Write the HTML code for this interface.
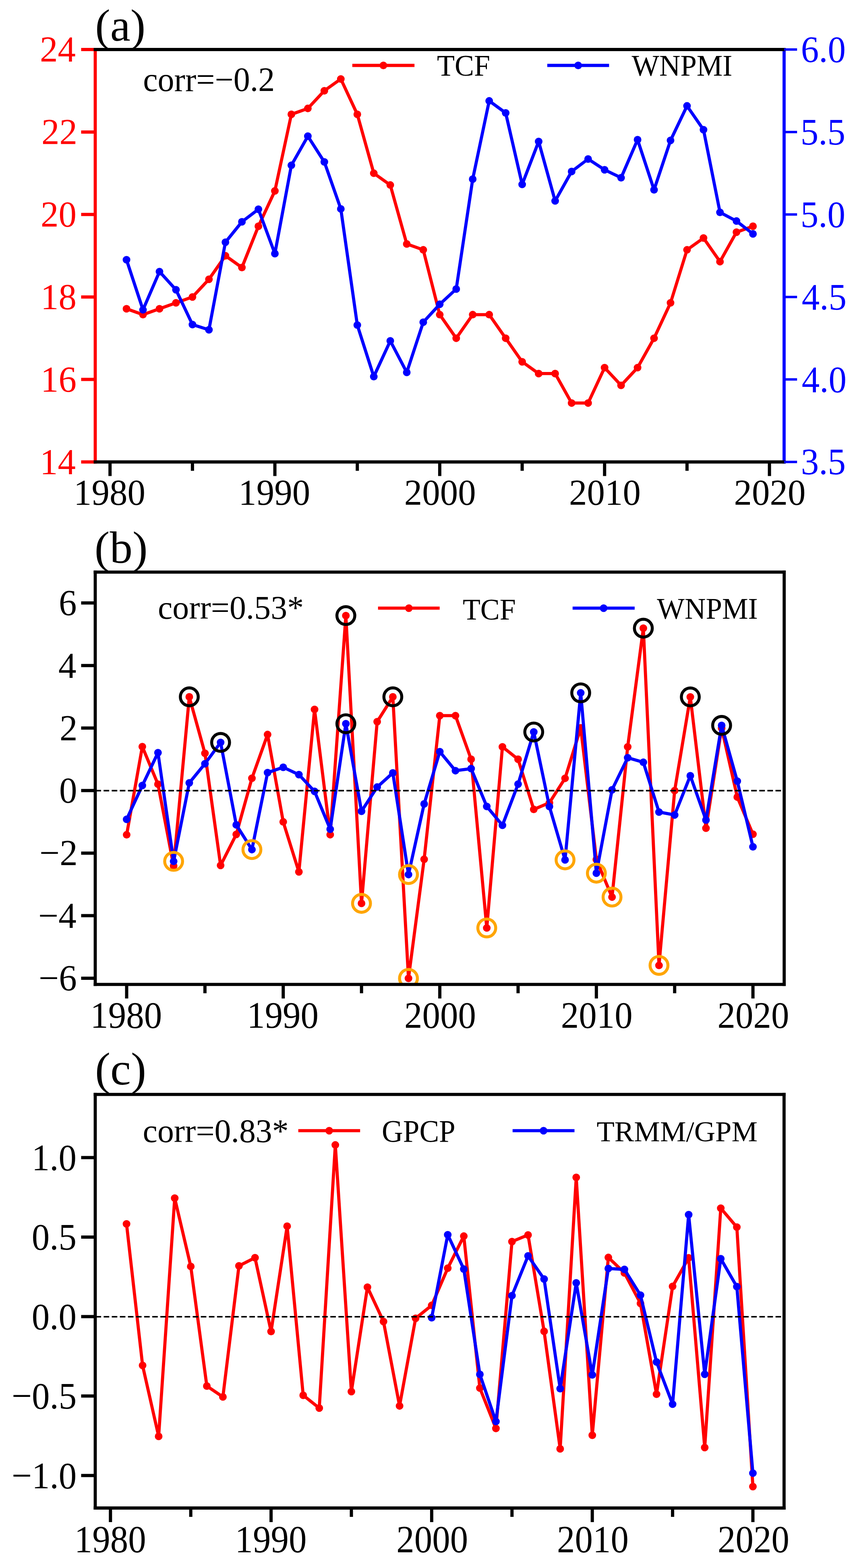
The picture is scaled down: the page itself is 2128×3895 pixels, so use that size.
<!DOCTYPE html>
<html><head><meta charset="utf-8"><title>TCF and WNPMI time series</title>
<style>html,body{margin:0;padding:0;background:#fff;}svg{display:block;}text{font-family:"Liberation Serif", "Times New Roman", serif;}</style></head><body>
<svg width="2128" height="3895" viewBox="0 0 2128 3895">
<rect x="0" y="0" width="2128" height="3895" fill="#fff"/>
<defs>
<clipPath id="ca"><rect x="236.5" y="123.0" width="1710.5" height="1024.5"/></clipPath>
<clipPath id="cb"><rect x="236.5" y="1421.2" width="1710.7" height="1024.1000000000001"/></clipPath>
<clipPath id="cc"><rect x="236.5" y="2718.7" width="1710.4" height="1027.3000000000002"/></clipPath>
</defs>
<polyline points="314.13,766.97 355.07,781.61 396,766.97 436.94,752.34 477.88,737.7 518.81,693.79 559.75,635.25 600.68,664.52 641.62,562.07 682.55,474.26 723.49,283.99 764.42,269.36 805.36,225.45 846.29,196.18 887.23,283.99 928.16,430.35 969.1,459.62 1010.03,605.98 1050.97,620.61 1091.9,781.61 1132.84,840.15 1173.77,781.61 1214.71,781.61 1255.64,840.15 1296.58,898.69 1337.51,927.96 1378.45,927.96 1419.38,1001.14 1460.32,1001.14 1501.25,913.33 1542.19,957.24 1583.12,913.33 1624.06,840.15 1664.99,752.34 1705.93,620.61 1746.86,591.34 1787.8,649.89 1828.73,576.71 1869.67,562.07" fill="none" stroke="#ff0000" stroke-width="7.8" stroke-linejoin="round" stroke-linecap="round" clip-path="url(#ca)"/>
<circle cx="314.13" cy="766.97" r="9.5" fill="#ff0000" clip-path="url(#ca)"/>
<circle cx="355.07" cy="781.61" r="9.5" fill="#ff0000" clip-path="url(#ca)"/>
<circle cx="396" cy="766.97" r="9.5" fill="#ff0000" clip-path="url(#ca)"/>
<circle cx="436.94" cy="752.34" r="9.5" fill="#ff0000" clip-path="url(#ca)"/>
<circle cx="477.88" cy="737.7" r="9.5" fill="#ff0000" clip-path="url(#ca)"/>
<circle cx="518.81" cy="693.79" r="9.5" fill="#ff0000" clip-path="url(#ca)"/>
<circle cx="559.75" cy="635.25" r="9.5" fill="#ff0000" clip-path="url(#ca)"/>
<circle cx="600.68" cy="664.52" r="9.5" fill="#ff0000" clip-path="url(#ca)"/>
<circle cx="641.62" cy="562.07" r="9.5" fill="#ff0000" clip-path="url(#ca)"/>
<circle cx="682.55" cy="474.26" r="9.5" fill="#ff0000" clip-path="url(#ca)"/>
<circle cx="723.49" cy="283.99" r="9.5" fill="#ff0000" clip-path="url(#ca)"/>
<circle cx="764.42" cy="269.36" r="9.5" fill="#ff0000" clip-path="url(#ca)"/>
<circle cx="805.36" cy="225.45" r="9.5" fill="#ff0000" clip-path="url(#ca)"/>
<circle cx="846.29" cy="196.18" r="9.5" fill="#ff0000" clip-path="url(#ca)"/>
<circle cx="887.23" cy="283.99" r="9.5" fill="#ff0000" clip-path="url(#ca)"/>
<circle cx="928.16" cy="430.35" r="9.5" fill="#ff0000" clip-path="url(#ca)"/>
<circle cx="969.1" cy="459.62" r="9.5" fill="#ff0000" clip-path="url(#ca)"/>
<circle cx="1010.03" cy="605.98" r="9.5" fill="#ff0000" clip-path="url(#ca)"/>
<circle cx="1050.97" cy="620.61" r="9.5" fill="#ff0000" clip-path="url(#ca)"/>
<circle cx="1091.9" cy="781.61" r="9.5" fill="#ff0000" clip-path="url(#ca)"/>
<circle cx="1132.84" cy="840.15" r="9.5" fill="#ff0000" clip-path="url(#ca)"/>
<circle cx="1173.77" cy="781.61" r="9.5" fill="#ff0000" clip-path="url(#ca)"/>
<circle cx="1214.71" cy="781.61" r="9.5" fill="#ff0000" clip-path="url(#ca)"/>
<circle cx="1255.64" cy="840.15" r="9.5" fill="#ff0000" clip-path="url(#ca)"/>
<circle cx="1296.58" cy="898.69" r="9.5" fill="#ff0000" clip-path="url(#ca)"/>
<circle cx="1337.51" cy="927.96" r="9.5" fill="#ff0000" clip-path="url(#ca)"/>
<circle cx="1378.45" cy="927.96" r="9.5" fill="#ff0000" clip-path="url(#ca)"/>
<circle cx="1419.38" cy="1001.14" r="9.5" fill="#ff0000" clip-path="url(#ca)"/>
<circle cx="1460.32" cy="1001.14" r="9.5" fill="#ff0000" clip-path="url(#ca)"/>
<circle cx="1501.25" cy="913.33" r="9.5" fill="#ff0000" clip-path="url(#ca)"/>
<circle cx="1542.19" cy="957.24" r="9.5" fill="#ff0000" clip-path="url(#ca)"/>
<circle cx="1583.12" cy="913.33" r="9.5" fill="#ff0000" clip-path="url(#ca)"/>
<circle cx="1624.06" cy="840.15" r="9.5" fill="#ff0000" clip-path="url(#ca)"/>
<circle cx="1664.99" cy="752.34" r="9.5" fill="#ff0000" clip-path="url(#ca)"/>
<circle cx="1705.93" cy="620.61" r="9.5" fill="#ff0000" clip-path="url(#ca)"/>
<circle cx="1746.86" cy="591.34" r="9.5" fill="#ff0000" clip-path="url(#ca)"/>
<circle cx="1787.8" cy="649.89" r="9.5" fill="#ff0000" clip-path="url(#ca)"/>
<circle cx="1828.73" cy="576.71" r="9.5" fill="#ff0000" clip-path="url(#ca)"/>
<circle cx="1869.67" cy="562.07" r="9.5" fill="#ff0000" clip-path="url(#ca)"/>
<polyline points="314.13,645.2 355.07,769.6 396,674.7 436.94,719.8 477.88,806.2 518.81,819.3 559.75,601.8 600.68,551 641.62,519.8 682.55,630 723.49,410.6 764.42,338.3 805.36,402.3 846.29,518.9 887.23,807.5 928.16,935.5 969.1,846.8 1010.03,925 1050.97,800.4 1091.9,755.8 1132.84,718 1173.77,445 1214.71,250.6 1255.64,280.5 1296.58,458.1 1337.51,351.5 1378.45,499.1 1419.38,426 1460.32,395 1501.25,421.7 1542.19,441.6 1583.12,347 1624.06,471.5 1664.99,348.7 1705.93,263.1 1746.86,322.2 1787.8,527.5 1828.73,549.1 1869.67,581" fill="none" stroke="#0000ff" stroke-width="7.8" stroke-linejoin="round" stroke-linecap="round" clip-path="url(#ca)"/>
<circle cx="314.13" cy="645.2" r="9.5" fill="#0000ff" clip-path="url(#ca)"/>
<circle cx="355.07" cy="769.6" r="9.5" fill="#0000ff" clip-path="url(#ca)"/>
<circle cx="396" cy="674.7" r="9.5" fill="#0000ff" clip-path="url(#ca)"/>
<circle cx="436.94" cy="719.8" r="9.5" fill="#0000ff" clip-path="url(#ca)"/>
<circle cx="477.88" cy="806.2" r="9.5" fill="#0000ff" clip-path="url(#ca)"/>
<circle cx="518.81" cy="819.3" r="9.5" fill="#0000ff" clip-path="url(#ca)"/>
<circle cx="559.75" cy="601.8" r="9.5" fill="#0000ff" clip-path="url(#ca)"/>
<circle cx="600.68" cy="551" r="9.5" fill="#0000ff" clip-path="url(#ca)"/>
<circle cx="641.62" cy="519.8" r="9.5" fill="#0000ff" clip-path="url(#ca)"/>
<circle cx="682.55" cy="630" r="9.5" fill="#0000ff" clip-path="url(#ca)"/>
<circle cx="723.49" cy="410.6" r="9.5" fill="#0000ff" clip-path="url(#ca)"/>
<circle cx="764.42" cy="338.3" r="9.5" fill="#0000ff" clip-path="url(#ca)"/>
<circle cx="805.36" cy="402.3" r="9.5" fill="#0000ff" clip-path="url(#ca)"/>
<circle cx="846.29" cy="518.9" r="9.5" fill="#0000ff" clip-path="url(#ca)"/>
<circle cx="887.23" cy="807.5" r="9.5" fill="#0000ff" clip-path="url(#ca)"/>
<circle cx="928.16" cy="935.5" r="9.5" fill="#0000ff" clip-path="url(#ca)"/>
<circle cx="969.1" cy="846.8" r="9.5" fill="#0000ff" clip-path="url(#ca)"/>
<circle cx="1010.03" cy="925" r="9.5" fill="#0000ff" clip-path="url(#ca)"/>
<circle cx="1050.97" cy="800.4" r="9.5" fill="#0000ff" clip-path="url(#ca)"/>
<circle cx="1091.9" cy="755.8" r="9.5" fill="#0000ff" clip-path="url(#ca)"/>
<circle cx="1132.84" cy="718" r="9.5" fill="#0000ff" clip-path="url(#ca)"/>
<circle cx="1173.77" cy="445" r="9.5" fill="#0000ff" clip-path="url(#ca)"/>
<circle cx="1214.71" cy="250.6" r="9.5" fill="#0000ff" clip-path="url(#ca)"/>
<circle cx="1255.64" cy="280.5" r="9.5" fill="#0000ff" clip-path="url(#ca)"/>
<circle cx="1296.58" cy="458.1" r="9.5" fill="#0000ff" clip-path="url(#ca)"/>
<circle cx="1337.51" cy="351.5" r="9.5" fill="#0000ff" clip-path="url(#ca)"/>
<circle cx="1378.45" cy="499.1" r="9.5" fill="#0000ff" clip-path="url(#ca)"/>
<circle cx="1419.38" cy="426" r="9.5" fill="#0000ff" clip-path="url(#ca)"/>
<circle cx="1460.32" cy="395" r="9.5" fill="#0000ff" clip-path="url(#ca)"/>
<circle cx="1501.25" cy="421.7" r="9.5" fill="#0000ff" clip-path="url(#ca)"/>
<circle cx="1542.19" cy="441.6" r="9.5" fill="#0000ff" clip-path="url(#ca)"/>
<circle cx="1583.12" cy="347" r="9.5" fill="#0000ff" clip-path="url(#ca)"/>
<circle cx="1624.06" cy="471.5" r="9.5" fill="#0000ff" clip-path="url(#ca)"/>
<circle cx="1664.99" cy="348.7" r="9.5" fill="#0000ff" clip-path="url(#ca)"/>
<circle cx="1705.93" cy="263.1" r="9.5" fill="#0000ff" clip-path="url(#ca)"/>
<circle cx="1746.86" cy="322.2" r="9.5" fill="#0000ff" clip-path="url(#ca)"/>
<circle cx="1787.8" cy="527.5" r="9.5" fill="#0000ff" clip-path="url(#ca)"/>
<circle cx="1828.73" cy="549.1" r="9.5" fill="#0000ff" clip-path="url(#ca)"/>
<circle cx="1869.67" cy="581" r="9.5" fill="#0000ff" clip-path="url(#ca)"/>
<line x1="874.8" y1="162.5" x2="1029.2" y2="162.5" stroke="#ff0000" stroke-width="7.8"/>
<circle cx="952" cy="162.5" r="9.5" fill="#ff0000"/>
<text transform="translate(1085 188.2) scale(1.0000 1.0277)" font-size="72" fill="#000">TCF</text>
<line x1="1358.9" y1="162.5" x2="1512.4" y2="162.5" stroke="#0000ff" stroke-width="7.8"/>
<circle cx="1435.65" cy="162.5" r="9.5" fill="#0000ff"/>
<text transform="translate(1568.6 187.89) scale(1.0078 1.0146)" font-size="72" fill="#000">WNPMI</text>
<text transform="translate(355.2 225.86) scale(1.0000 1.0418)" font-size="82" fill="#000">corr=−0.2</text>
<line x1="236.5" y1="119.1" x2="236.5" y2="1151.4" stroke="#ff0000" stroke-width="7.8"/>
<line x1="1947" y1="119.1" x2="1947" y2="1151.4" stroke="#0000ff" stroke-width="7.8"/>
<line x1="273.2" y1="1147.5" x2="273.2" y2="1182.5" stroke="#000" stroke-width="8.0"/>
<line x1="477.88" y1="1147.5" x2="477.88" y2="1169.5" stroke="#000" stroke-width="8.0"/>
<line x1="682.55" y1="1147.5" x2="682.55" y2="1182.5" stroke="#000" stroke-width="8.0"/>
<line x1="887.23" y1="1147.5" x2="887.23" y2="1169.5" stroke="#000" stroke-width="8.0"/>
<line x1="1091.9" y1="1147.5" x2="1091.9" y2="1182.5" stroke="#000" stroke-width="8.0"/>
<line x1="1296.58" y1="1147.5" x2="1296.58" y2="1169.5" stroke="#000" stroke-width="8.0"/>
<line x1="1501.25" y1="1147.5" x2="1501.25" y2="1182.5" stroke="#000" stroke-width="8.0"/>
<line x1="1705.93" y1="1147.5" x2="1705.93" y2="1169.5" stroke="#000" stroke-width="8.0"/>
<line x1="1910.6" y1="1147.5" x2="1910.6" y2="1182.5" stroke="#000" stroke-width="8.0"/>
<text transform="translate(183.02 1254.03) scale(1.0000 1.0212)" font-size="89" fill="#000">1980</text>
<text transform="translate(592.37 1254.03) scale(1.0000 1.0212)" font-size="89" fill="#000">1990</text>
<text transform="translate(1003.73 1254.03) scale(1.0000 1.0212)" font-size="89" fill="#000">2000</text>
<text transform="translate(1413.08 1254.03) scale(1.0000 1.0212)" font-size="89" fill="#000">2010</text>
<text transform="translate(1822.43 1254.03) scale(1.0000 1.0212)" font-size="89" fill="#000">2020</text>
<line x1="201.5" y1="123" x2="236.5" y2="123" stroke="#ff0000" stroke-width="8.0"/>
<line x1="201.5" y1="327.9" x2="236.5" y2="327.9" stroke="#ff0000" stroke-width="8.0"/>
<line x1="201.5" y1="532.8" x2="236.5" y2="532.8" stroke="#ff0000" stroke-width="8.0"/>
<line x1="201.5" y1="737.7" x2="236.5" y2="737.7" stroke="#ff0000" stroke-width="8.0"/>
<line x1="201.5" y1="942.6" x2="236.5" y2="942.6" stroke="#ff0000" stroke-width="8.0"/>
<line x1="201.5" y1="1147.5" x2="236.5" y2="1147.5" stroke="#ff0000" stroke-width="8.0"/>
<line x1="232.6" y1="123" x2="1950.9" y2="123" stroke="#000" stroke-width="7.8"/>
<line x1="232.6" y1="1147.5" x2="1950.9" y2="1147.5" stroke="#000" stroke-width="7.8"/>
<text transform="translate(98.9 153.08) scale(1.0000 1.0232)" font-size="89" fill="#ff0000">24</text>
<text transform="translate(102.9 357.98) scale(1.0000 1.0232)" font-size="89" fill="#ff0000">22</text>
<text transform="translate(100.9 562.88) scale(1.0000 1.0232)" font-size="89" fill="#ff0000">20</text>
<text transform="translate(100.9 767.78) scale(1.0000 1.0232)" font-size="89" fill="#ff0000">18</text>
<text transform="translate(100.9 972.68) scale(1.0000 1.0232)" font-size="89" fill="#ff0000">16</text>
<text transform="translate(98.9 1177.58) scale(1.0000 1.0232)" font-size="89" fill="#ff0000">14</text>
<line x1="1947" y1="123" x2="1979.2" y2="123" stroke="#0000ff" stroke-width="6.0"/>
<line x1="1947" y1="327.9" x2="1979.2" y2="327.9" stroke="#0000ff" stroke-width="6.0"/>
<line x1="1947" y1="532.8" x2="1979.2" y2="532.8" stroke="#0000ff" stroke-width="6.0"/>
<line x1="1947" y1="737.7" x2="1979.2" y2="737.7" stroke="#0000ff" stroke-width="6.0"/>
<line x1="1947" y1="942.6" x2="1979.2" y2="942.6" stroke="#0000ff" stroke-width="6.0"/>
<line x1="1947" y1="1147.5" x2="1979.2" y2="1147.5" stroke="#0000ff" stroke-width="6.0"/>
<text transform="translate(1988.8 153.96) scale(1.0000 1.0432)" font-size="89" fill="#0000ff">6.0</text>
<text transform="translate(1987.8 358.86) scale(1.0000 1.0432)" font-size="89" fill="#0000ff">5.5</text>
<text transform="translate(1987.8 563.76) scale(1.0000 1.0432)" font-size="89" fill="#0000ff">5.0</text>
<text transform="translate(1990.8 768.66) scale(1.0000 1.0432)" font-size="89" fill="#0000ff">4.5</text>
<text transform="translate(1990.8 973.56) scale(1.0000 1.0432)" font-size="89" fill="#0000ff">4.0</text>
<text transform="translate(1988.8 1178.46) scale(1.0000 1.0432)" font-size="89" fill="#0000ff">3.5</text>
<text transform="translate(236.22 100.93) scale(0.9965 0.9965)" font-size="113" fill="#000">(a)</text>
<polyline points="314.5,2073.6 353.38,1854.7 392.26,1947.9 431.13,2150.9 470.01,1731 508.89,1871.2 547.77,2149.8 586.65,2072.7 625.52,1933.2 664.4,1824.6 703.28,2041.6 742.16,2165.8 781.04,1762.3 819.91,2073.4 858.79,1529.2 897.67,2244 936.55,1792.7 975.43,1731 1014.3,2430.3 1053.18,2134.5 1092.06,1777.7 1130.94,1777.7 1169.82,1886 1208.69,2305.1 1247.57,1855.3 1286.45,1886 1325.33,2010.6 1364.21,1994.2 1403.08,1933.4 1441.96,1808 1480.84,2135 1519.72,2228.4 1558.6,1855.3 1597.47,1560.5 1636.35,2398.1 1675.23,1963.9 1714.11,1731.2 1752.99,2057.3 1791.86,1808.7 1830.74,1979.9 1869.62,2072.3" fill="none" stroke="#ff0000" stroke-width="7.8" stroke-linejoin="round" stroke-linecap="round" clip-path="url(#cb)"/>
<circle cx="314.5" cy="2073.6" r="9.5" fill="#ff0000" clip-path="url(#cb)"/>
<circle cx="353.38" cy="1854.7" r="9.5" fill="#ff0000" clip-path="url(#cb)"/>
<circle cx="392.26" cy="1947.9" r="9.5" fill="#ff0000" clip-path="url(#cb)"/>
<circle cx="431.13" cy="2150.9" r="9.5" fill="#ff0000" clip-path="url(#cb)"/>
<circle cx="470.01" cy="1731" r="9.5" fill="#ff0000" clip-path="url(#cb)"/>
<circle cx="508.89" cy="1871.2" r="9.5" fill="#ff0000" clip-path="url(#cb)"/>
<circle cx="547.77" cy="2149.8" r="9.5" fill="#ff0000" clip-path="url(#cb)"/>
<circle cx="586.65" cy="2072.7" r="9.5" fill="#ff0000" clip-path="url(#cb)"/>
<circle cx="625.52" cy="1933.2" r="9.5" fill="#ff0000" clip-path="url(#cb)"/>
<circle cx="664.4" cy="1824.6" r="9.5" fill="#ff0000" clip-path="url(#cb)"/>
<circle cx="703.28" cy="2041.6" r="9.5" fill="#ff0000" clip-path="url(#cb)"/>
<circle cx="742.16" cy="2165.8" r="9.5" fill="#ff0000" clip-path="url(#cb)"/>
<circle cx="781.04" cy="1762.3" r="9.5" fill="#ff0000" clip-path="url(#cb)"/>
<circle cx="819.91" cy="2073.4" r="9.5" fill="#ff0000" clip-path="url(#cb)"/>
<circle cx="858.79" cy="1529.2" r="9.5" fill="#ff0000" clip-path="url(#cb)"/>
<circle cx="897.67" cy="2244" r="9.5" fill="#ff0000" clip-path="url(#cb)"/>
<circle cx="936.55" cy="1792.7" r="9.5" fill="#ff0000" clip-path="url(#cb)"/>
<circle cx="975.43" cy="1731" r="9.5" fill="#ff0000" clip-path="url(#cb)"/>
<circle cx="1014.3" cy="2430.3" r="9.5" fill="#ff0000" clip-path="url(#cb)"/>
<circle cx="1053.18" cy="2134.5" r="9.5" fill="#ff0000" clip-path="url(#cb)"/>
<circle cx="1092.06" cy="1777.7" r="9.5" fill="#ff0000" clip-path="url(#cb)"/>
<circle cx="1130.94" cy="1777.7" r="9.5" fill="#ff0000" clip-path="url(#cb)"/>
<circle cx="1169.82" cy="1886" r="9.5" fill="#ff0000" clip-path="url(#cb)"/>
<circle cx="1208.69" cy="2305.1" r="9.5" fill="#ff0000" clip-path="url(#cb)"/>
<circle cx="1247.57" cy="1855.3" r="9.5" fill="#ff0000" clip-path="url(#cb)"/>
<circle cx="1286.45" cy="1886" r="9.5" fill="#ff0000" clip-path="url(#cb)"/>
<circle cx="1325.33" cy="2010.6" r="9.5" fill="#ff0000" clip-path="url(#cb)"/>
<circle cx="1364.21" cy="1994.2" r="9.5" fill="#ff0000" clip-path="url(#cb)"/>
<circle cx="1403.08" cy="1933.4" r="9.5" fill="#ff0000" clip-path="url(#cb)"/>
<circle cx="1441.96" cy="1808" r="9.5" fill="#ff0000" clip-path="url(#cb)"/>
<circle cx="1480.84" cy="2135" r="9.5" fill="#ff0000" clip-path="url(#cb)"/>
<circle cx="1519.72" cy="2228.4" r="9.5" fill="#ff0000" clip-path="url(#cb)"/>
<circle cx="1558.6" cy="1855.3" r="9.5" fill="#ff0000" clip-path="url(#cb)"/>
<circle cx="1597.47" cy="1560.5" r="9.5" fill="#ff0000" clip-path="url(#cb)"/>
<circle cx="1636.35" cy="2398.1" r="9.5" fill="#ff0000" clip-path="url(#cb)"/>
<circle cx="1675.23" cy="1963.9" r="9.5" fill="#ff0000" clip-path="url(#cb)"/>
<circle cx="1714.11" cy="1731.2" r="9.5" fill="#ff0000" clip-path="url(#cb)"/>
<circle cx="1752.99" cy="2057.3" r="9.5" fill="#ff0000" clip-path="url(#cb)"/>
<circle cx="1791.86" cy="1808.7" r="9.5" fill="#ff0000" clip-path="url(#cb)"/>
<circle cx="1830.74" cy="1979.9" r="9.5" fill="#ff0000" clip-path="url(#cb)"/>
<circle cx="1869.62" cy="2072.3" r="9.5" fill="#ff0000" clip-path="url(#cb)"/>
<polyline points="314.5,2035.2 353.38,1951.3 392.26,1869.8 431.13,2139.6 470.01,1944.8 508.89,1897.3 547.77,1844.2 586.65,2048.9 625.52,2110.4 664.4,1919.2 703.28,1906 742.16,1924.2 781.04,1965.8 819.91,2059.8 858.79,1797.8 897.67,2015.2 936.55,1955.1 975.43,1920 1014.3,2172.4 1053.18,1997 1092.06,1867.2 1130.94,1914.4 1169.82,1909.3 1208.69,2003.2 1247.57,2050.1 1286.45,1947.8 1325.33,1818.3 1364.21,2003.5 1403.08,2136 1441.96,1721.1 1480.84,2169 1519.72,1962 1558.6,1882.3 1597.47,1893.6 1636.35,2017.2 1675.23,2024.4 1714.11,1927 1752.99,2037 1791.86,1801.9 1830.74,1940.5 1869.62,2103.5" fill="none" stroke="#0000ff" stroke-width="7.8" stroke-linejoin="round" stroke-linecap="round" clip-path="url(#cb)"/>
<circle cx="314.5" cy="2035.2" r="9.5" fill="#0000ff" clip-path="url(#cb)"/>
<circle cx="353.38" cy="1951.3" r="9.5" fill="#0000ff" clip-path="url(#cb)"/>
<circle cx="392.26" cy="1869.8" r="9.5" fill="#0000ff" clip-path="url(#cb)"/>
<circle cx="431.13" cy="2139.6" r="9.5" fill="#0000ff" clip-path="url(#cb)"/>
<circle cx="470.01" cy="1944.8" r="9.5" fill="#0000ff" clip-path="url(#cb)"/>
<circle cx="508.89" cy="1897.3" r="9.5" fill="#0000ff" clip-path="url(#cb)"/>
<circle cx="547.77" cy="1844.2" r="9.5" fill="#0000ff" clip-path="url(#cb)"/>
<circle cx="586.65" cy="2048.9" r="9.5" fill="#0000ff" clip-path="url(#cb)"/>
<circle cx="625.52" cy="2110.4" r="9.5" fill="#0000ff" clip-path="url(#cb)"/>
<circle cx="664.4" cy="1919.2" r="9.5" fill="#0000ff" clip-path="url(#cb)"/>
<circle cx="703.28" cy="1906" r="9.5" fill="#0000ff" clip-path="url(#cb)"/>
<circle cx="742.16" cy="1924.2" r="9.5" fill="#0000ff" clip-path="url(#cb)"/>
<circle cx="781.04" cy="1965.8" r="9.5" fill="#0000ff" clip-path="url(#cb)"/>
<circle cx="819.91" cy="2059.8" r="9.5" fill="#0000ff" clip-path="url(#cb)"/>
<circle cx="858.79" cy="1797.8" r="9.5" fill="#0000ff" clip-path="url(#cb)"/>
<circle cx="897.67" cy="2015.2" r="9.5" fill="#0000ff" clip-path="url(#cb)"/>
<circle cx="936.55" cy="1955.1" r="9.5" fill="#0000ff" clip-path="url(#cb)"/>
<circle cx="975.43" cy="1920" r="9.5" fill="#0000ff" clip-path="url(#cb)"/>
<circle cx="1014.3" cy="2172.4" r="9.5" fill="#0000ff" clip-path="url(#cb)"/>
<circle cx="1053.18" cy="1997" r="9.5" fill="#0000ff" clip-path="url(#cb)"/>
<circle cx="1092.06" cy="1867.2" r="9.5" fill="#0000ff" clip-path="url(#cb)"/>
<circle cx="1130.94" cy="1914.4" r="9.5" fill="#0000ff" clip-path="url(#cb)"/>
<circle cx="1169.82" cy="1909.3" r="9.5" fill="#0000ff" clip-path="url(#cb)"/>
<circle cx="1208.69" cy="2003.2" r="9.5" fill="#0000ff" clip-path="url(#cb)"/>
<circle cx="1247.57" cy="2050.1" r="9.5" fill="#0000ff" clip-path="url(#cb)"/>
<circle cx="1286.45" cy="1947.8" r="9.5" fill="#0000ff" clip-path="url(#cb)"/>
<circle cx="1325.33" cy="1818.3" r="9.5" fill="#0000ff" clip-path="url(#cb)"/>
<circle cx="1364.21" cy="2003.5" r="9.5" fill="#0000ff" clip-path="url(#cb)"/>
<circle cx="1403.08" cy="2136" r="9.5" fill="#0000ff" clip-path="url(#cb)"/>
<circle cx="1441.96" cy="1721.1" r="9.5" fill="#0000ff" clip-path="url(#cb)"/>
<circle cx="1480.84" cy="2169" r="9.5" fill="#0000ff" clip-path="url(#cb)"/>
<circle cx="1519.72" cy="1962" r="9.5" fill="#0000ff" clip-path="url(#cb)"/>
<circle cx="1558.6" cy="1882.3" r="9.5" fill="#0000ff" clip-path="url(#cb)"/>
<circle cx="1597.47" cy="1893.6" r="9.5" fill="#0000ff" clip-path="url(#cb)"/>
<circle cx="1636.35" cy="2017.2" r="9.5" fill="#0000ff" clip-path="url(#cb)"/>
<circle cx="1675.23" cy="2024.4" r="9.5" fill="#0000ff" clip-path="url(#cb)"/>
<circle cx="1714.11" cy="1927" r="9.5" fill="#0000ff" clip-path="url(#cb)"/>
<circle cx="1752.99" cy="2037" r="9.5" fill="#0000ff" clip-path="url(#cb)"/>
<circle cx="1791.86" cy="1801.9" r="9.5" fill="#0000ff" clip-path="url(#cb)"/>
<circle cx="1830.74" cy="1940.5" r="9.5" fill="#0000ff" clip-path="url(#cb)"/>
<circle cx="1869.62" cy="2103.5" r="9.5" fill="#0000ff" clip-path="url(#cb)"/>
<line x1="236.5" y1="1964.05" x2="1947.2" y2="1964.05" stroke="#000" stroke-width="3.9" stroke-dasharray="13.8 6.3" stroke-dashoffset="-0.7"/>
<circle cx="470.01" cy="1731" r="22.2" fill="none" stroke="#000" stroke-width="7.4" clip-path="url(#cb)"/>
<circle cx="547.77" cy="1844.2" r="22.2" fill="none" stroke="#000" stroke-width="7.4" clip-path="url(#cb)"/>
<circle cx="858.79" cy="1529.2" r="22.2" fill="none" stroke="#000" stroke-width="7.4" clip-path="url(#cb)"/>
<circle cx="858.79" cy="1797.8" r="22.2" fill="none" stroke="#000" stroke-width="7.4" clip-path="url(#cb)"/>
<circle cx="975.43" cy="1731" r="22.2" fill="none" stroke="#000" stroke-width="7.4" clip-path="url(#cb)"/>
<circle cx="1325.33" cy="1818.3" r="22.2" fill="none" stroke="#000" stroke-width="7.4" clip-path="url(#cb)"/>
<circle cx="1441.96" cy="1721.1" r="22.2" fill="none" stroke="#000" stroke-width="7.4" clip-path="url(#cb)"/>
<circle cx="1597.47" cy="1560.5" r="22.2" fill="none" stroke="#000" stroke-width="7.4" clip-path="url(#cb)"/>
<circle cx="1714.11" cy="1731.2" r="22.2" fill="none" stroke="#000" stroke-width="7.4" clip-path="url(#cb)"/>
<circle cx="1791.86" cy="1801.9" r="22.2" fill="none" stroke="#000" stroke-width="7.4" clip-path="url(#cb)"/>
<circle cx="431.13" cy="2139.6" r="22.2" fill="none" stroke="#ffa500" stroke-width="7.4" clip-path="url(#cb)"/>
<circle cx="625.52" cy="2110.4" r="22.2" fill="none" stroke="#ffa500" stroke-width="7.4" clip-path="url(#cb)"/>
<circle cx="897.67" cy="2244" r="22.2" fill="none" stroke="#ffa500" stroke-width="7.4" clip-path="url(#cb)"/>
<circle cx="1014.3" cy="2172.4" r="22.2" fill="none" stroke="#ffa500" stroke-width="7.4" clip-path="url(#cb)"/>
<circle cx="1014.3" cy="2430.3" r="22.2" fill="none" stroke="#ffa500" stroke-width="7.4" clip-path="url(#cb)"/>
<circle cx="1208.69" cy="2305.1" r="22.2" fill="none" stroke="#ffa500" stroke-width="7.4" clip-path="url(#cb)"/>
<circle cx="1403.08" cy="2136" r="22.2" fill="none" stroke="#ffa500" stroke-width="7.4" clip-path="url(#cb)"/>
<circle cx="1480.84" cy="2169" r="22.2" fill="none" stroke="#ffa500" stroke-width="7.4" clip-path="url(#cb)"/>
<circle cx="1519.72" cy="2228.4" r="22.2" fill="none" stroke="#ffa500" stroke-width="7.4" clip-path="url(#cb)"/>
<circle cx="1636.35" cy="2398.1" r="22.2" fill="none" stroke="#ffa500" stroke-width="7.4" clip-path="url(#cb)"/>
<line x1="938.7" y1="1510.7" x2="1091.7" y2="1510.7" stroke="#ff0000" stroke-width="7.8"/>
<circle cx="1015.2" cy="1510.7" r="9.5" fill="#ff0000"/>
<text transform="translate(1148.9 1538.8) scale(0.9992 1.0383)" font-size="72" fill="#000">TCF</text>
<line x1="1421.8" y1="1510.7" x2="1575.9" y2="1510.7" stroke="#0000ff" stroke-width="7.8"/>
<circle cx="1498.85" cy="1510.7" r="9.5" fill="#0000ff"/>
<text transform="translate(1631.3 1537.28) scale(1.0102 1.0187)" font-size="72" fill="#000">WNPMI</text>
<text transform="translate(392.01 1537.19) scale(0.9983 1.0073)" font-size="82" fill="#000">corr=0.53*</text>
<line x1="236.5" y1="1417.3" x2="236.5" y2="2449.2" stroke="#000" stroke-width="7.8"/>
<line x1="1947.2" y1="1417.3" x2="1947.2" y2="2449.2" stroke="#000" stroke-width="7.8"/>
<line x1="314.5" y1="2445.3" x2="314.5" y2="2480.3" stroke="#000" stroke-width="8.0"/>
<line x1="508.89" y1="2445.3" x2="508.89" y2="2467.3" stroke="#000" stroke-width="8.0"/>
<line x1="703.28" y1="2445.3" x2="703.28" y2="2480.3" stroke="#000" stroke-width="8.0"/>
<line x1="897.67" y1="2445.3" x2="897.67" y2="2467.3" stroke="#000" stroke-width="8.0"/>
<line x1="1092.06" y1="2445.3" x2="1092.06" y2="2480.3" stroke="#000" stroke-width="8.0"/>
<line x1="1286.45" y1="2445.3" x2="1286.45" y2="2467.3" stroke="#000" stroke-width="8.0"/>
<line x1="1480.84" y1="2445.3" x2="1480.84" y2="2480.3" stroke="#000" stroke-width="8.0"/>
<line x1="1675.23" y1="2445.3" x2="1675.23" y2="2467.3" stroke="#000" stroke-width="8.0"/>
<line x1="1869.62" y1="2445.3" x2="1869.62" y2="2480.3" stroke="#000" stroke-width="8.0"/>
<text transform="translate(224.37 2552.61) scale(1.0000 1.0398)" font-size="89" fill="#000">1980</text>
<text transform="translate(613.14 2552.61) scale(1.0000 1.0398)" font-size="89" fill="#000">1990</text>
<text transform="translate(1003.92 2552.61) scale(1.0000 1.0398)" font-size="89" fill="#000">2000</text>
<text transform="translate(1392.7 2552.61) scale(1.0000 1.0398)" font-size="89" fill="#000">2010</text>
<text transform="translate(1781.48 2552.61) scale(1.0000 1.0398)" font-size="89" fill="#000">2020</text>
<line x1="201.5" y1="1497.77" x2="236.5" y2="1497.77" stroke="#000" stroke-width="8.0"/>
<line x1="201.5" y1="1653.13" x2="236.5" y2="1653.13" stroke="#000" stroke-width="8.0"/>
<line x1="201.5" y1="1808.49" x2="236.5" y2="1808.49" stroke="#000" stroke-width="8.0"/>
<line x1="201.5" y1="1963.85" x2="236.5" y2="1963.85" stroke="#000" stroke-width="8.0"/>
<line x1="201.5" y1="2119.21" x2="236.5" y2="2119.21" stroke="#000" stroke-width="8.0"/>
<line x1="201.5" y1="2274.57" x2="236.5" y2="2274.57" stroke="#000" stroke-width="8.0"/>
<line x1="201.5" y1="2429.93" x2="236.5" y2="2429.93" stroke="#000" stroke-width="8.0"/>
<line x1="232.6" y1="1421.2" x2="1951.1" y2="1421.2" stroke="#000" stroke-width="7.8"/>
<line x1="232.6" y1="2445.3" x2="1951.1" y2="2445.3" stroke="#000" stroke-width="7.8"/>
<text transform="translate(146.1 1527.99) scale(1.0000 1.0280)" font-size="89" fill="#000">6</text>
<text transform="translate(145.1 1683.87) scale(1.0000 1.0280)" font-size="89" fill="#000">4</text>
<text transform="translate(148.1 1838.71) scale(1.0000 1.0280)" font-size="89" fill="#000">2</text>
<text transform="translate(147.1 1994.07) scale(1.0000 1.0280)" font-size="89" fill="#000">0</text>
<text transform="translate(98.1 2149.43) scale(1.0000 1.0280)" font-size="89" fill="#000">−2</text>
<text transform="translate(95.1 2305.31) scale(1.0000 1.0280)" font-size="89" fill="#000">−4</text>
<text transform="translate(96.1 2460.15) scale(1.0000 1.0280)" font-size="89" fill="#000">−6</text>
<text transform="translate(234.8 1398.4) scale(1.0000 1.0000)" font-size="113" fill="#000">(b)</text>
<polyline points="314.18,3040.2 354.06,3391.8 393.94,3568 433.82,2976.2 473.7,3145.9 513.58,3443 553.46,3470 593.34,3144.5 633.22,3124.3 673.1,3307.5 712.98,3045.9 752.86,3466 792.74,3497.7 832.62,2844.1 872.5,3456.8 912.38,3197.4 952.26,3282.7 992.14,3492.4 1032.02,3274.7 1071.9,3242.6 1111.78,3150.2 1151.66,3070.6 1191.54,3448.1 1231.42,3548.2 1271.3,3084.2 1311.18,3067.7 1351.06,3307.1 1390.94,3599 1430.82,2924.7 1470.7,3565.2 1510.58,3123.6 1550.46,3162 1590.34,3237.7 1630.22,3463.3 1670.1,3195.5 1709.98,3124.6 1749.86,3595.8 1789.74,3001.2 1829.62,3048.3 1869.5,3692.7" fill="none" stroke="#ff0000" stroke-width="7.8" stroke-linejoin="round" stroke-linecap="round" clip-path="url(#cc)"/>
<circle cx="314.18" cy="3040.2" r="9.5" fill="#ff0000" clip-path="url(#cc)"/>
<circle cx="354.06" cy="3391.8" r="9.5" fill="#ff0000" clip-path="url(#cc)"/>
<circle cx="393.94" cy="3568" r="9.5" fill="#ff0000" clip-path="url(#cc)"/>
<circle cx="433.82" cy="2976.2" r="9.5" fill="#ff0000" clip-path="url(#cc)"/>
<circle cx="473.7" cy="3145.9" r="9.5" fill="#ff0000" clip-path="url(#cc)"/>
<circle cx="513.58" cy="3443" r="9.5" fill="#ff0000" clip-path="url(#cc)"/>
<circle cx="553.46" cy="3470" r="9.5" fill="#ff0000" clip-path="url(#cc)"/>
<circle cx="593.34" cy="3144.5" r="9.5" fill="#ff0000" clip-path="url(#cc)"/>
<circle cx="633.22" cy="3124.3" r="9.5" fill="#ff0000" clip-path="url(#cc)"/>
<circle cx="673.1" cy="3307.5" r="9.5" fill="#ff0000" clip-path="url(#cc)"/>
<circle cx="712.98" cy="3045.9" r="9.5" fill="#ff0000" clip-path="url(#cc)"/>
<circle cx="752.86" cy="3466" r="9.5" fill="#ff0000" clip-path="url(#cc)"/>
<circle cx="792.74" cy="3497.7" r="9.5" fill="#ff0000" clip-path="url(#cc)"/>
<circle cx="832.62" cy="2844.1" r="9.5" fill="#ff0000" clip-path="url(#cc)"/>
<circle cx="872.5" cy="3456.8" r="9.5" fill="#ff0000" clip-path="url(#cc)"/>
<circle cx="912.38" cy="3197.4" r="9.5" fill="#ff0000" clip-path="url(#cc)"/>
<circle cx="952.26" cy="3282.7" r="9.5" fill="#ff0000" clip-path="url(#cc)"/>
<circle cx="992.14" cy="3492.4" r="9.5" fill="#ff0000" clip-path="url(#cc)"/>
<circle cx="1032.02" cy="3274.7" r="9.5" fill="#ff0000" clip-path="url(#cc)"/>
<circle cx="1071.9" cy="3242.6" r="9.5" fill="#ff0000" clip-path="url(#cc)"/>
<circle cx="1111.78" cy="3150.2" r="9.5" fill="#ff0000" clip-path="url(#cc)"/>
<circle cx="1151.66" cy="3070.6" r="9.5" fill="#ff0000" clip-path="url(#cc)"/>
<circle cx="1191.54" cy="3448.1" r="9.5" fill="#ff0000" clip-path="url(#cc)"/>
<circle cx="1231.42" cy="3548.2" r="9.5" fill="#ff0000" clip-path="url(#cc)"/>
<circle cx="1271.3" cy="3084.2" r="9.5" fill="#ff0000" clip-path="url(#cc)"/>
<circle cx="1311.18" cy="3067.7" r="9.5" fill="#ff0000" clip-path="url(#cc)"/>
<circle cx="1351.06" cy="3307.1" r="9.5" fill="#ff0000" clip-path="url(#cc)"/>
<circle cx="1390.94" cy="3599" r="9.5" fill="#ff0000" clip-path="url(#cc)"/>
<circle cx="1430.82" cy="2924.7" r="9.5" fill="#ff0000" clip-path="url(#cc)"/>
<circle cx="1470.7" cy="3565.2" r="9.5" fill="#ff0000" clip-path="url(#cc)"/>
<circle cx="1510.58" cy="3123.6" r="9.5" fill="#ff0000" clip-path="url(#cc)"/>
<circle cx="1550.46" cy="3162" r="9.5" fill="#ff0000" clip-path="url(#cc)"/>
<circle cx="1590.34" cy="3237.7" r="9.5" fill="#ff0000" clip-path="url(#cc)"/>
<circle cx="1630.22" cy="3463.3" r="9.5" fill="#ff0000" clip-path="url(#cc)"/>
<circle cx="1670.1" cy="3195.5" r="9.5" fill="#ff0000" clip-path="url(#cc)"/>
<circle cx="1709.98" cy="3124.6" r="9.5" fill="#ff0000" clip-path="url(#cc)"/>
<circle cx="1749.86" cy="3595.8" r="9.5" fill="#ff0000" clip-path="url(#cc)"/>
<circle cx="1789.74" cy="3001.2" r="9.5" fill="#ff0000" clip-path="url(#cc)"/>
<circle cx="1829.62" cy="3048.3" r="9.5" fill="#ff0000" clip-path="url(#cc)"/>
<circle cx="1869.5" cy="3692.7" r="9.5" fill="#ff0000" clip-path="url(#cc)"/>
<polyline points="1071.9,3273.3 1111.78,3067.2 1151.66,3152.5 1191.54,3414 1231.42,3531.1 1271.3,3218.4 1311.18,3119.8 1351.06,3177.2 1390.94,3449.5 1430.82,3186.8 1470.7,3415.3 1510.58,3151 1550.46,3153.3 1590.34,3217.3 1630.22,3383.3 1670.1,3488.1 1709.98,3017.2 1749.86,3413.8 1789.74,3126.8 1829.62,3196.1 1869.5,3659.4" fill="none" stroke="#0000ff" stroke-width="7.8" stroke-linejoin="round" stroke-linecap="round" clip-path="url(#cc)"/>
<circle cx="1071.9" cy="3273.3" r="9.5" fill="#0000ff" clip-path="url(#cc)"/>
<circle cx="1111.78" cy="3067.2" r="9.5" fill="#0000ff" clip-path="url(#cc)"/>
<circle cx="1151.66" cy="3152.5" r="9.5" fill="#0000ff" clip-path="url(#cc)"/>
<circle cx="1191.54" cy="3414" r="9.5" fill="#0000ff" clip-path="url(#cc)"/>
<circle cx="1231.42" cy="3531.1" r="9.5" fill="#0000ff" clip-path="url(#cc)"/>
<circle cx="1271.3" cy="3218.4" r="9.5" fill="#0000ff" clip-path="url(#cc)"/>
<circle cx="1311.18" cy="3119.8" r="9.5" fill="#0000ff" clip-path="url(#cc)"/>
<circle cx="1351.06" cy="3177.2" r="9.5" fill="#0000ff" clip-path="url(#cc)"/>
<circle cx="1390.94" cy="3449.5" r="9.5" fill="#0000ff" clip-path="url(#cc)"/>
<circle cx="1430.82" cy="3186.8" r="9.5" fill="#0000ff" clip-path="url(#cc)"/>
<circle cx="1470.7" cy="3415.3" r="9.5" fill="#0000ff" clip-path="url(#cc)"/>
<circle cx="1510.58" cy="3151" r="9.5" fill="#0000ff" clip-path="url(#cc)"/>
<circle cx="1550.46" cy="3153.3" r="9.5" fill="#0000ff" clip-path="url(#cc)"/>
<circle cx="1590.34" cy="3217.3" r="9.5" fill="#0000ff" clip-path="url(#cc)"/>
<circle cx="1630.22" cy="3383.3" r="9.5" fill="#0000ff" clip-path="url(#cc)"/>
<circle cx="1670.1" cy="3488.1" r="9.5" fill="#0000ff" clip-path="url(#cc)"/>
<circle cx="1709.98" cy="3017.2" r="9.5" fill="#0000ff" clip-path="url(#cc)"/>
<circle cx="1749.86" cy="3413.8" r="9.5" fill="#0000ff" clip-path="url(#cc)"/>
<circle cx="1789.74" cy="3126.8" r="9.5" fill="#0000ff" clip-path="url(#cc)"/>
<circle cx="1829.62" cy="3196.1" r="9.5" fill="#0000ff" clip-path="url(#cc)"/>
<circle cx="1869.5" cy="3659.4" r="9.5" fill="#0000ff" clip-path="url(#cc)"/>
<line x1="236.5" y1="3270.9" x2="1946.9" y2="3270.9" stroke="#000" stroke-width="3.9" stroke-dasharray="13.8 6.3" stroke-dashoffset="-0.8"/>
<line x1="740.7" y1="2808.7" x2="894.2" y2="2808.7" stroke="#ff0000" stroke-width="7.8"/>
<circle cx="817.45" cy="2808.7" r="9.5" fill="#ff0000"/>
<text transform="translate(948.06 2836.1) scale(1.0144 1.0830)" font-size="72" fill="#000">GPCP</text>
<line x1="1272.8" y1="2808.7" x2="1426.5" y2="2808.7" stroke="#0000ff" stroke-width="7.8"/>
<circle cx="1349.65" cy="2808.7" r="9.5" fill="#0000ff"/>
<text transform="translate(1481.49 2834.71) scale(1.0089 0.9917)" font-size="72" fill="#000">TRMM/GPM</text>
<text transform="translate(354.61 2836.69) scale(0.9983 1.0145)" font-size="82" fill="#000">corr=0.83*</text>
<line x1="236.5" y1="2714.8" x2="236.5" y2="3749.9" stroke="#000" stroke-width="7.8"/>
<line x1="1946.9" y1="2714.8" x2="1946.9" y2="3749.9" stroke="#000" stroke-width="7.8"/>
<line x1="274.3" y1="3746" x2="274.3" y2="3781" stroke="#000" stroke-width="8.0"/>
<line x1="473.7" y1="3746" x2="473.7" y2="3768" stroke="#000" stroke-width="8.0"/>
<line x1="673.1" y1="3746" x2="673.1" y2="3781" stroke="#000" stroke-width="8.0"/>
<line x1="872.5" y1="3746" x2="872.5" y2="3768" stroke="#000" stroke-width="8.0"/>
<line x1="1071.9" y1="3746" x2="1071.9" y2="3781" stroke="#000" stroke-width="8.0"/>
<line x1="1271.3" y1="3746" x2="1271.3" y2="3768" stroke="#000" stroke-width="8.0"/>
<line x1="1470.7" y1="3746" x2="1470.7" y2="3781" stroke="#000" stroke-width="8.0"/>
<line x1="1670.1" y1="3746" x2="1670.1" y2="3768" stroke="#000" stroke-width="8.0"/>
<line x1="1869.5" y1="3746" x2="1869.5" y2="3781" stroke="#000" stroke-width="8.0"/>
<text transform="translate(184.73 3856.42) scale(1.0000 1.0754)" font-size="89" fill="#000">1980</text>
<text transform="translate(583.53 3856.42) scale(1.0000 1.0754)" font-size="89" fill="#000">1990</text>
<text transform="translate(984.33 3856.42) scale(1.0000 1.0754)" font-size="89" fill="#000">2000</text>
<text transform="translate(1383.12 3856.42) scale(1.0000 1.0754)" font-size="89" fill="#000">2010</text>
<text transform="translate(1781.92 3856.42) scale(1.0000 1.0754)" font-size="89" fill="#000">2020</text>
<line x1="201.5" y1="2875.5" x2="236.5" y2="2875.5" stroke="#000" stroke-width="8.0"/>
<line x1="201.5" y1="3072.95" x2="236.5" y2="3072.95" stroke="#000" stroke-width="8.0"/>
<line x1="201.5" y1="3270.4" x2="236.5" y2="3270.4" stroke="#000" stroke-width="8.0"/>
<line x1="201.5" y1="3467.85" x2="236.5" y2="3467.85" stroke="#000" stroke-width="8.0"/>
<line x1="201.5" y1="3665.3" x2="236.5" y2="3665.3" stroke="#000" stroke-width="8.0"/>
<line x1="232.6" y1="2718.7" x2="1950.8" y2="2718.7" stroke="#000" stroke-width="7.8"/>
<line x1="232.6" y1="3746" x2="1950.8" y2="3746" stroke="#000" stroke-width="7.8"/>
<text transform="translate(78.85 2906.79) scale(1.0000 1.0568)" font-size="89" fill="#000">1.0</text>
<text transform="translate(78.85 3104.24) scale(1.0000 1.0568)" font-size="89" fill="#000">0.5</text>
<text transform="translate(78.85 3301.69) scale(1.0000 1.0568)" font-size="89" fill="#000">0.0</text>
<text transform="translate(28.85 3499.14) scale(1.0000 1.0568)" font-size="89" fill="#000">−0.5</text>
<text transform="translate(28.85 3696.59) scale(1.0000 1.0568)" font-size="89" fill="#000">−1.0</text>
<text transform="translate(235.93 2694.39) scale(1.0139 1.0139)" font-size="113" fill="#000">(c)</text>
</svg></body></html>
